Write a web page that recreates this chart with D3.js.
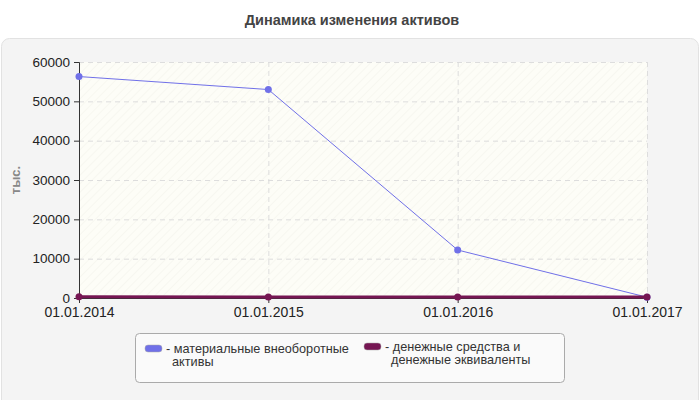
<!DOCTYPE html>
<html><head><meta charset="utf-8">
<script src="https://cdn.jsdelivr.net/npm/d3@7"></script>
<style>body{margin:0;background:#fff}text{font-family:"Liberation Sans",Arial,sans-serif}</style>
</head><body>
<svg id="c" width="700" height="400"></svg>
<script>
const dates = ["01.01.2014", "01.01.2015", "01.01.2016", "01.01.2017"];
const fixedAssets = [56300, 53000, 12200, 200];
const cash = [300, 250, 250, 250];
const seriesNames = ["- материальные внеоборотные|активы", "- денежные средства и|денежные эквиваленты"];
const seriesColors = ["#7070e8", "#761653"];
const yTicks = [0, 10000, 20000, 30000, 40000, 50000, 60000];

const svg = d3.select("#c");
const m = { left: 79, right: 647, top: 62, bottom: 298 };

// title and panel
svg.append("text").attr("x", 352).attr("y", 25).attr("text-anchor", "middle")
  .style("font-size", "14.5px").style("font-weight", "bold").attr("fill", "#444")
  .text("Динамика изменения активов");
svg.append("rect").attr("x", 1.5).attr("y", 38.5).attr("width", 697).attr("height", 370)
  .attr("rx", 8).attr("fill", "#f4f4f4").attr("stroke", "#e2e2e2");

const defs = svg.append("defs");
const pat = defs.append("pattern").attr("id", "hatch").attr("width", 6).attr("height", 6)
  .attr("patternUnits", "userSpaceOnUse").attr("patternTransform", "rotate(45)");
pat.append("rect").attr("width", 6).attr("height", 6).attr("fill", "#fdfdf7");
pat.append("line").attr("x1", 0).attr("y1", 0).attr("x2", 0).attr("y2", 6)
  .attr("stroke", "#f1f1ea").attr("stroke-width", 1);

const x = d3.scalePoint().domain(dates).range([m.left, m.right]);
const y = d3.scaleLinear().domain([0, 60000]).range([m.bottom, m.top]);

svg.append("rect").attr("x", m.left).attr("y", m.top)
  .attr("width", m.right - m.left).attr("height", m.bottom - m.top).attr("fill", "url(#hatch)");

// grid
const grid = svg.append("g").attr("stroke", "#ddd").attr("stroke-dasharray", "5,4");
yTicks.forEach(t => grid.append("line").attr("x1", m.left).attr("x2", m.right)
  .attr("y1", y(t) + 0.5).attr("y2", y(t) + 0.5));
dates.forEach(d => grid.append("line").attr("x1", x(d) + 0.5).attr("x2", x(d) + 0.5)
  .attr("y1", m.top).attr("y2", m.bottom));

// axes
const ya = svg.append("g").attr("transform", `translate(${m.left},0)`)
  .call(d3.axisLeft(y).tickValues(yTicks).tickSize(5).tickPadding(4).tickFormat(d3.format("d")));
const xa = svg.append("g").attr("transform", `translate(0,${m.bottom})`)
  .call(d3.axisBottom(x).tickSize(5).tickPadding(4));
[[ya, "13.5px"], [xa, "14px"]].forEach(([a, fs]) => {
  a.select(".domain").attr("stroke", "#333");
  a.selectAll(".tick line").attr("stroke", "#333");
  a.selectAll("text").style("font-size", fs).attr("fill", "#222")
    .style("font-family", "'Liberation Sans',Arial,sans-serif");
});
svg.append("text").attr("transform", "translate(20,180) rotate(-90)").attr("text-anchor", "middle")
  .style("font-size", "13px").style("font-weight", "bold").attr("fill", "#888").text("тыс.");

// series
const line = d3.line().x((d, i) => x(dates[i])).y(d => y(d));
[[fixedAssets, 1], [cash, 3]].forEach(([vals, w], k) => {
  svg.append("path").datum(vals).attr("d", line).attr("fill", "none")
    .attr("stroke", seriesColors[k]).attr("stroke-width", w);
  svg.selectAll(null).data(vals).enter().append("circle")
    .attr("cx", (d, i) => x(dates[i])).attr("cy", d => y(d)).attr("r", 3.5)
    .attr("fill", seriesColors[k]);
});

// legend
svg.append("rect").attr("x", 135.5).attr("y", 333.5).attr("width", 429).attr("height", 49)
  .attr("rx", 4).attr("fill", "#fafafa").attr("stroke", "#aaa");
seriesNames.forEach((n, k) => {
  const lx = k === 0 ? 145 : 364;
  const ly = k === 0 ? 345 : 343;
  svg.append("rect").attr("x", lx).attr("y", ly).attr("width", 17).attr("height", 7)
    .attr("rx", 3).attr("fill", seriesColors[k]).attr("stroke", "#aaa").attr("stroke-width", 0.5);
  n.split("|").forEach((s, j) => {
    svg.append("text").attr("x", (j === 0 ? lx + 21 : lx + 27)).attr("y", ly + 8 + j * 13)
      .style("font-size", "12.7px").attr("fill", "#333").text(s);
  });
});
</script>
</body></html>
